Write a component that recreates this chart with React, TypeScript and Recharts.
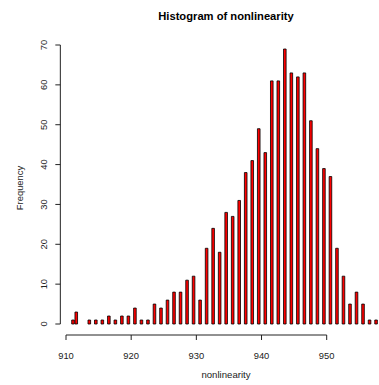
import { BarChart, Bar, XAxis, YAxis, ReferenceLine } from "recharts";

// histogram bins (0.25 wide), centre of each non-empty bin
const binCenters = [
  911.125, 911.625, 913.625, 914.625, 915.625, 916.625, 917.625, 918.625, 919.625, 920.625,
  921.625, 922.625, 923.625, 924.625, 925.625, 926.625, 927.625, 928.625, 929.625, 930.625,
  931.625, 932.625, 933.625, 934.625, 935.625, 936.625, 937.625, 938.625, 939.625, 940.625,
  941.625, 942.625, 943.625, 944.625, 945.625, 946.625, 947.625, 948.625, 949.625, 950.625,
  951.625, 952.625, 953.625, 954.625, 955.625, 956.625, 957.625,
];
const counts = [
  1, 3, 1, 1, 1, 2, 1, 2, 2, 4,
  1, 1, 5, 4, 6, 8, 8, 11, 12, 6,
  19, 24, 18, 28, 27, 31, 38, 41, 49, 43,
  61, 61, 69, 63, 62, 63, 51, 44, 39, 37,
  19, 12, 5, 8, 5, 1, 1,
];
const xTicks = [910, 920, 930, 940, 950];
const yTicks = [0, 10, 20, 30, 40, 50, 60, 70];
const xDomain = [909.13, 959.62];
const yDomain = [-2.76, 71.76];

const data = binCenters.map((x, i) => ({ x, count: counts[i] }));

const FONT = "'Liberation Sans', Arial, Helvetica, sans-serif";
const INK = "#222";

function XTick({ x, y, payload }: any) {
  return (
    <text x={x} y={y + 16.5} textAnchor="middle" fontFamily={FONT} fontSize={9.4} fill={INK}>
      {payload.value}
    </text>
  );
}

function YTick({ y, payload }: any) {
  return (
    <text
      x={0}
      y={0}
      transform={`translate(46.5, ${y}) rotate(-90)`}
      textAnchor="middle"
      fontFamily={FONT}
      fontSize={9.4}
      fill={INK}
    >
      {payload.value}
    </text>
  );
}

export default function App() {
  return (
    <div
      style={{
        position: "absolute",
        left: 0,
        top: 0,
        width: 379,
        height: 385,
        overflow: "hidden",
        background: "#fff",
      }}
    >
      <BarChart
        width={400}
        height={385}
        data={data}
        margin={{ top: 38, right: 10.6, left: 0, bottom: 0 }}
      >
        <XAxis
          type="number"
          dataKey="x"
          domain={xDomain}
          ticks={xTicks}
          allowDataOverflow
          axisLine={false}
          tickSize={5}
          tickLine={{ stroke: INK, strokeWidth: 1 }}
          tick={<XTick />}
          height={50}
        />
        <YAxis
          type="number"
          domain={yDomain}
          ticks={yTicks}
          allowDataOverflow
          axisLine={false}
          tickSize={5}
          tickLine={{ stroke: INK, strokeWidth: 1 }}
          tick={<YTick />}
          width={60.33}
        />
        <ReferenceLine
          segment={[
            { x: 910, y: yDomain[0] },
            { x: 950, y: yDomain[0] },
          ]}
          stroke={INK}
          strokeWidth={1}
          ifOverflow="visible"
        />
        <ReferenceLine
          segment={[
            { x: xDomain[0], y: 0 },
            { x: xDomain[0], y: 70 },
          ]}
          stroke={INK}
          strokeWidth={1}
          ifOverflow="visible"
        />
        <Bar
          dataKey="count"
          barSize={2.6}
          fill="#ff0000"
          stroke="#000"
          strokeWidth={0.8}
          isAnimationActive={false}
        />
      </BarChart>
      <svg
        width={379}
        height={385}
        style={{ position: "absolute", left: 0, top: 0, pointerEvents: "none" }}
      >
        <text
          x={226}
          y={19.5}
          textAnchor="middle"
          fontFamily={FONT}
          fontSize={11.2}
          fontWeight="bold"
          fill="#000"
        >
          Histogram of nonlinearity
        </text>
        <text x={226} y={378} textAnchor="middle" fontFamily={FONT} fontSize={9.6} fill={INK}>
          nonlinearity
        </text>
        <text
          x={0}
          y={0}
          transform="translate(23, 188) rotate(-90)"
          textAnchor="middle"
          fontFamily={FONT}
          fontSize={9.4}
          fill={INK}
        >
          Frequency
        </text>
      </svg>
    </div>
  );
}
